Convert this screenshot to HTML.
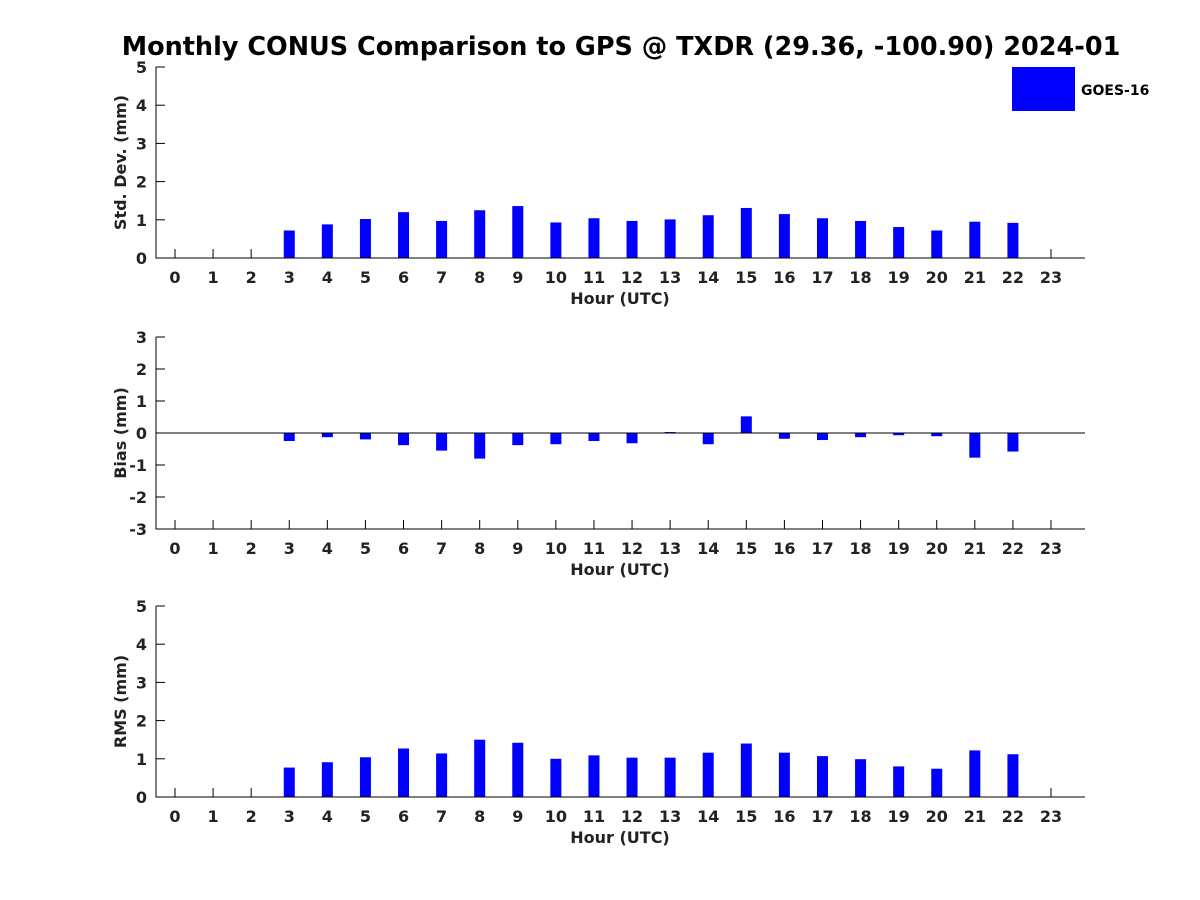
<!DOCTYPE html>
<html><head><meta charset="utf-8"><style>
body{margin:0;background:#fff;}
svg{display:block;font-family:"DejaVu Sans","Liberation Sans",sans-serif;font-weight:bold;}
</style></head><body>
<svg id="chart" width="1200" height="900" xmlns="http://www.w3.org/2000/svg">
<text x="621" y="55" text-anchor="middle" font-size="25.5" fill="#000">Monthly CONUS Comparison to GPS @ TXDR (29.36, -100.90) 2024-01</text>
<rect x="1012" y="67" width="63" height="44" fill="#0000ff"/>
<text x="1081" y="95" font-size="14" fill="#000">GOES-16</text>
</svg>
<script>
const hours = [0,1,2,3,4,5,6,7,8,9,10,11,12,13,14,15,16,17,18,19,20,21,22,23];
const stdValues = [null,null,null,0.72,0.88,1.02,1.2,0.97,1.25,1.36,0.93,1.04,0.97,1.01,1.12,1.31,1.15,1.04,0.97,0.81,0.72,0.95,0.92,null];
const biasValues = [null,null,null,-0.25,-0.13,-0.2,-0.38,-0.55,-0.8,-0.38,-0.35,-0.25,-0.32,0.03,-0.35,0.52,-0.18,-0.22,-0.13,-0.07,-0.1,-0.77,-0.58,null];
const rmsValues = [null,null,null,0.77,0.91,1.04,1.27,1.14,1.5,1.42,1.0,1.09,1.03,1.03,1.16,1.4,1.16,1.07,0.99,0.8,0.74,1.22,1.12,null];
const stdTicks = [0,1,2,3,4,5];
const biasTicks = [-3,-2,-1,0,1,2,3];
const rmsTicks = [0,1,2,3,4,5];

const svg = document.getElementById('chart');
const NS = 'http://www.w3.org/2000/svg';
function mk(tag, attrs, parent){
  const e = document.createElementNS(NS, tag);
  for (const k in attrs) e.setAttribute(k, attrs[k]);
  (parent||svg).appendChild(e);
  return e;
}
const X0 = 156, X1 = 1085;
function xs(h){ return 175 + h * 38.087; }

function panel(name, top, bottom, ymin, ymax, ticks, values, ylabel, zeroLine){
  const g = mk('g', {});
  
  
  const ys = v => bottom - (v - ymin) / (ymax - ymin) * (bottom - top);
  ticks.forEach(t => {
    const y = ys(t);
    mk('line', {x1: X0, x2: X0 + 9, y1: y, y2: y, stroke: '#000'}, g);
    const tx = mk('text', {x: X0 - 9, y: y + 6, 'text-anchor': 'end', 'font-size': 16, fill: '#222'}, g);
    tx.textContent = t;
    
    
  });
  hours.forEach(h => {
    const x = xs(h);
    mk('line', {x1: x, x2: x, y1: bottom, y2: bottom - 9, stroke: '#000'}, g);
    const tx = mk('text', {x: x, y: bottom + 25, 'text-anchor': 'middle', 'font-size': 16, fill: '#222'}, g);
    tx.textContent = h;
    
    
  });
  const bw = 11;
  values.forEach((v, i) => {
    if (v === null) return;
    const y0 = ys(0), y1 = ys(v);
    const r = mk('rect', {x: xs(hours[i]) - bw/2, y: Math.min(y0, y1), width: bw, height: Math.max(Math.abs(y1 - y0), 0.5), fill: '#0000ff'}, g);
    
    
  });
  const ax = mk('path', {d: `M${X0} ${top}V${bottom}H${X1}`, stroke: '#000', 'stroke-width': 1, fill: 'none'}, g);
  
  
  if (zeroLine){
    const z = mk('line', {x1: X0, x2: X1, y1: ys(0), y2: ys(0), stroke: '#000', 'stroke-width': 1}, g);
    
    
  }
  const xl = mk('text', {x: 620, y: bottom + 46, 'text-anchor': 'middle', 'font-size': 16, fill: '#222'}, g);
  xl.textContent = 'Hour (UTC)';
  
  
  const cy = (top + bottom) / 2;
  const yl = mk('text', {x: 0, y: 0, 'text-anchor': 'middle', 'font-size': 16, fill: '#222', transform: `translate(126 ${cy}) rotate(-90)`}, g);
  yl.textContent = ylabel;
  
  
}
panel('std-dev', 67, 258, 0, 5, stdTicks, stdValues, 'Std. Dev. (mm)', false);
panel('bias', 337, 529, -3, 3, biasTicks, biasValues, 'Bias (mm)', true);
panel('rms', 606, 797, 0, 5, rmsTicks, rmsValues, 'RMS (mm)', false);
</script>
</body></html>
